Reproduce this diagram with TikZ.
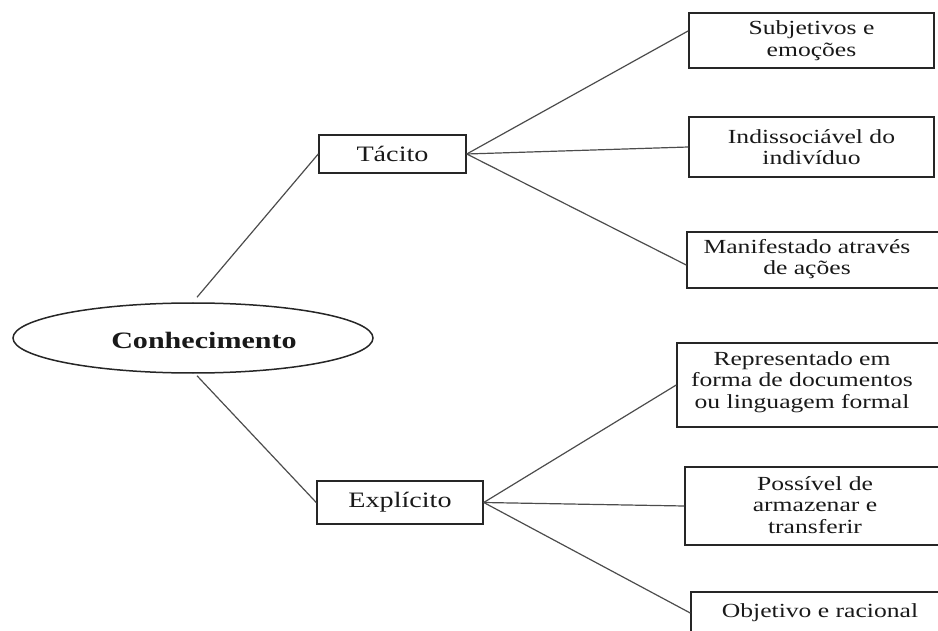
\documentclass[tikz,border=0pt]{standalone}
\usepackage{fontspec}
\setmainfont{Liberation Serif}[FakeStretch=1.28]
\usetikzlibrary{shapes.geometric,calc}
\begin{document}
\begin{tikzpicture}[x=1pt,y=-1pt,
  box/.style={draw=black!85, line width=1.5pt, rectangle, inner sep=0pt,
    align=center, text=black!90, font=\fontsize{20}{21.5}\selectfont},
  mid/.style={box, font=\fontsize{22}{24}\selectfont},
  lbl/.style={inner sep=0pt, align=center, text=black!90,
    font=\fontsize{20}{21.5}\selectfont},
  link/.style={draw=black!70, line width=1.2pt}]
\useasboundingbox (0,0) rectangle (938,631);
\clip (0,0) rectangle (938,631);

% root
\node[ellipse, draw=black!85, line width=1.5pt, minimum width=360pt,
  minimum height=70pt, inner sep=0pt,
  label={[inner sep=0pt, text=black!90, font=\bfseries\fontsize{23.5}{26}\selectfont,
    xshift=11pt, yshift=-2pt]center:Conhecimento}] (ell) at (193,338) {};

% two kinds of knowledge
\node[mid, minimum width=147pt, minimum height=38pt] (tac) at (392.5,154) {Tácito};
\node[mid, minimum width=166pt, minimum height=43pt] (exp) at (400,502.5) {Explícito};

% tacit properties
\node[box, minimum width=245pt, minimum height=55pt] (b1) at (811.5,40.5)
  {Subjetivos e\\emoções};
\node[box, minimum width=245pt, minimum height=60pt] (b2) at (811.5,147)
  {Indissociável do\\indivíduo};
\node[box, minimum width=273pt, minimum height=56pt,
  label={[lbl, xshift=-16.5pt, yshift=1pt]center:Manifestado através\\de ações}]
  (b3) at (823.5,260) {};

% explicit properties
\node[box, minimum width=283pt, minimum height=84pt,
  label={[lbl, xshift=-16.5pt, yshift=3pt]center:Representado em\\forma de documentos\\ou linguagem formal}]
  (rep) at (818.5,385) {};
\node[box, minimum width=275pt, minimum height=78pt,
  label={[lbl, xshift=-7.5pt, yshift=1pt]center:Possível de\\armazenar e\\transferir}]
  (pos) at (822.5,506) {};
\node[box, minimum width=269pt, minimum height=42pt,
  label={[lbl, xshift=-5.5pt]center:Objetivo e racional}]
  (obj) at (825.5,613) {};

% connectors
\draw[link] ([shift={(4pt,5pt)}]ell.north) -- (tac.west);
\draw[link] ([shift={(4pt,-2pt)}]ell.south) -- (exp.west);
\draw[link] (tac.east) -- ($(b1.north west)!0.33!(b1.south west)$);
\draw[link] (tac.east) -- (b2.west);
\draw[link] (tac.east) -- ([yshift=-5pt]b3.west);
\draw[link] (exp.east) -- (rep.west);
\draw[link] (exp.east) -- (pos.west);
\draw[link] (exp.east) -- (obj.west);
\end{tikzpicture}
\end{document}
